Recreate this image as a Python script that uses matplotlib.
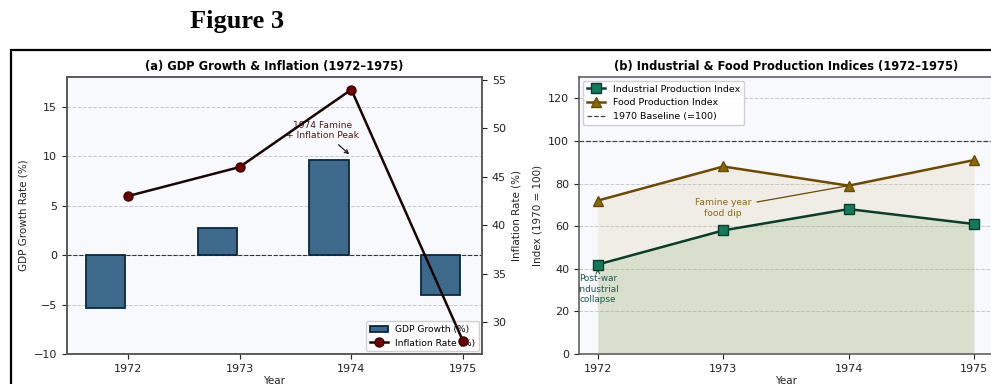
import numpy as np
import matplotlib
matplotlib.use('Agg')
import matplotlib.pyplot as plt
from matplotlib.patches import Rectangle

# 数据
years = [1972, 1973, 1974, 1975]
gdp_growth = [-5.3, 2.7, 9.6, -4.0]
inflation = [43, 46, 54, 28]
industrial_idx = [42, 58, 68, 61]
food_idx = [72, 88, 79, 91]

plt.rcParams['font.family'] = ['DejaVu Sans']

fig = plt.figure(figsize=(9.91, 3.84), dpi=100)
fig.patch.set_facecolor('white')

# 文档标题和边框
fig.text(0.239, 0.945, 'Figure 3', ha='center', va='center',
         fontsize=19, fontweight='bold', family='Liberation Serif')
fig.add_artist(Rectangle((10.5 / 991, -0.1), 1.2, 1 - 49.5 / 384 + 0.1,
                         transform=fig.transFigure, fill=False,
                         edgecolor='black', lw=1.6))

face = '#f8f9fd'
spine_c = '#555555'
fs = 8
tfs = 8.3

# (a) GDP 与通胀
ax1 = fig.add_axes([67 / 991, 1 - 354 / 384, 415 / 991, 277 / 384])
ax1.set_facecolor(face)
x = np.array(years)
ax1.bar(x - 0.2, gdp_growth, width=0.35, color='#3d6a8a',
        edgecolor='#0a2740', linewidth=1.3, label='GDP Growth (%)', zorder=3)
ax1.axhline(0, color='#333333', ls='--', lw=0.8, zorder=2)
ax1.set_ylim(-10, 18)
ax1.yaxis.grid(True, ls='--', color='#c8c8c8', lw=0.7)
ax1.set_axisbelow(True)
ax1.set_ylabel('GDP Growth Rate (%)', fontsize=7.5, color='#222222')
ax1.set_xlabel('Year', fontsize=7.5, color='#222222', labelpad=2)
ax1.set_xticks(years)
ax1.tick_params(labelsize=fs, colors='#222222')
ax1.set_title('(a) GDP Growth & Inflation (1972–1975)', fontsize=tfs,
              fontweight='bold', pad=5)
ax1.annotate('1974 Famine\n+ Inflation Peak', xy=(1974, 10), xytext=(1973.74, 12.6),
             ha='center', va='center', fontsize=6.6, color='#4d1a1a',
             arrowprops=dict(arrowstyle='->', color='#222222', lw=0.9))

ax2 = ax1.twinx()
ax2.plot(years, inflation, color='#1a0505', lw=1.8, marker='o', markersize=6.5,
         markerfacecolor='#6e0000', markeredgecolor='#3d0000',
         label='Inflation Rate (%)', zorder=4)
ax2.set_ylabel('Inflation Rate (%)', fontsize=7.5, color='#222222')
ax2.tick_params(labelsize=fs, colors='#222222')
for a in (ax1, ax2):
    for s in a.spines.values():
        s.set_color(spine_c)
        s.set_linewidth(1.1)

# 图例放在 ax1 上, 让折线画在图例之上
h1, l1 = ax1.get_legend_handles_labels()
h2, l2 = ax2.get_legend_handles_labels()
ax1.legend(h1 + h2, l1 + l2, loc='lower right', fontsize=6.6,
           borderaxespad=0.3, framealpha=0.9)

# (b) 工业与粮食生产指数
ax3 = fig.add_axes([579 / 991, 1 - 354 / 384, 413.8 / 991, 277 / 384])
ax3.set_facecolor(face)
ax3.fill_between(years, 0, food_idx, color='#c9b77a', alpha=0.18, lw=0)
ax3.fill_between(years, 0, industrial_idx, color='#8fb07a', alpha=0.22, lw=0)
ax3.plot(years, industrial_idx, color='#0b3d2a', lw=1.8, marker='s', markersize=6.5,
         markerfacecolor='#157a5c', markeredgecolor='#0b3d2a',
         label='Industrial Production Index', zorder=4)
ax3.plot(years, food_idx, color='#6b4a05', lw=1.8, marker='^', markersize=7,
         markerfacecolor='#8a6a08', markeredgecolor='#6b4a05',
         label='Food Production Index', zorder=4)
ax3.axhline(100, color='#444444', ls='--', lw=0.9, label='1970 Baseline (=100)')
ax3.set_ylim(0, 130)
ax3.set_yticks([0, 20, 40, 60, 80, 100, 120])
ax3.yaxis.grid(True, ls='--', color='#c8c8c8', lw=0.7)
ax3.set_axisbelow(True)
ax3.set_xticks(years)
ax3.tick_params(labelsize=fs, colors='#222222')
ax3.set_ylabel('Index (1970 = 100)', fontsize=7.5, color='#222222')
ax3.set_xlabel('Year', fontsize=7.5, color='#222222', labelpad=2)
ax3.set_title('(b) Industrial & Food Production Indices (1972–1975)', fontsize=tfs,
              fontweight='bold', pad=5)
ax3.annotate('Famine year\nfood dip', xy=(1974, 79), xytext=(1973, 68.5),
             ha='center', va='center', fontsize=6.6, color='#8a6a1a',
             arrowprops=dict(arrowstyle='-', color='#6b4a05', lw=0.9))
ax3.annotate('Post-war\nindustrial\ncollapse', xy=(1972, 40), xytext=(1972, 30.5),
             ha='center', va='center', fontsize=6.4, color='#1f5a4a',
             arrowprops=dict(arrowstyle='->', color='#1f5a4a', lw=0.8))
ax3.legend(loc='upper left', fontsize=6.8, borderaxespad=0.4, framealpha=0.9)
for s in ax3.spines.values():
    s.set_color(spine_c)
    s.set_linewidth(1.1)

fig.savefig('out.png', dpi=100)
